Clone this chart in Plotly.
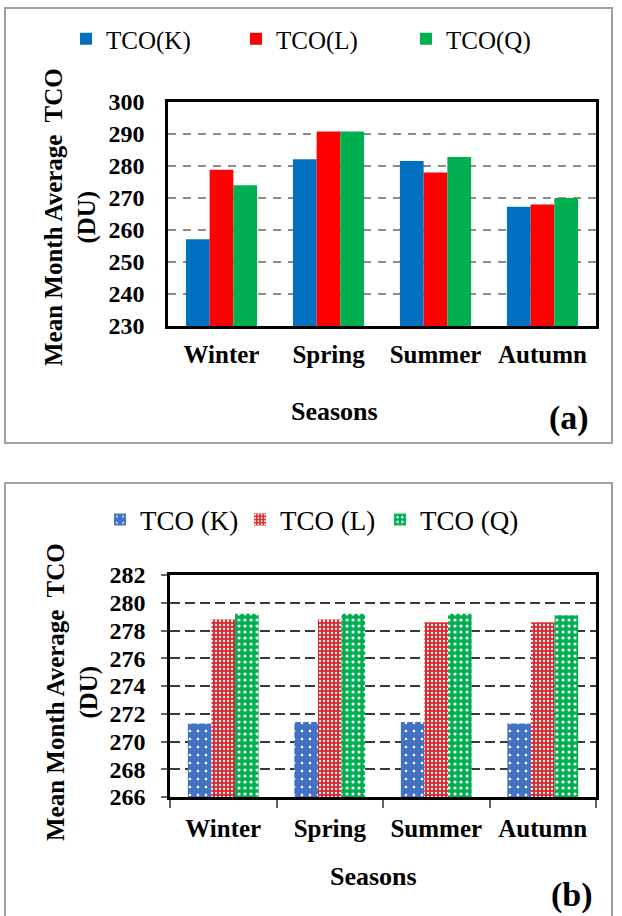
import plotly.graph_objects as go

W, H = 622, 916

seasons = ["Winter", "Spring", "Summer", "Autumn"]

# Panel (a)
a_names = ["TCO(K)", "TCO(L)", "TCO(Q)"]
a_K = [257.1, 282.1, 281.6, 267.3]
a_L = [278.8, 290.8, 278.0, 268.0]
a_Q = [274.0, 290.8, 282.8, 270.0]
a_ticks = [230, 240, 250, 260, 270, 280, 290, 300]

# Panel (b)
b_names = ["TCO (K)", "TCO (L)", "TCO (Q)"]
b_K = [271.3, 271.4, 271.4, 271.3]
b_L = [278.8, 278.8, 278.6, 278.6]
b_Q = [279.2, 279.2, 279.2, 279.1]
b_ticks = [266, 268, 270, 272, 274, 276, 278, 280, 282]

FONT = "'Liberation Serif', 'Times New Roman', Times, 'DejaVu Serif', serif"

def px_x(v):
    return v / W

def px_y(v):
    return 1 - v / H

fig = go.Figure()

a_colors = ["#0070C0", "#FF0000", "#00B050"]
for name, vals, col in zip(a_names, [a_K, a_L, a_Q], a_colors):
    fig.add_trace(go.Bar(x=seasons, y=vals, name=name, marker=dict(color=col, line=dict(width=0)),
                         xaxis="x", yaxis="y", legend="legend"))

b_colors = ["#4472C4", "#D92B2F", "#00B050"]
b_patterns = [dict(shape=".", fgcolor="white", bgcolor="#4472C4", size=8, solidity=0.08, fillmode="replace"),
              dict(shape=".", fgcolor="white", bgcolor="#D92B2F", size=4, solidity=0.25, fillmode="replace"),
              dict(shape=".", fgcolor="white", bgcolor="#00B050", size=6, solidity=0.22, fillmode="replace")]
for name, vals, col, pat in zip(b_names, [b_K, b_L, b_Q], b_colors, b_patterns):
    fig.add_trace(go.Bar(x=seasons, y=vals, name=name,
                         marker=dict(color=col, pattern=pat, line=dict(width=0)),
                         xaxis="x2", yaxis="y2", legend="legend2"))

tickfont = dict(family=FONT, size=24, color="black", weight="bold")
catfont = dict(family=FONT, size=25, color="black", weight="bold")

fig.update_layout(
    width=W, height=H,
    margin=dict(l=0, r=0, t=0, b=0),
    paper_bgcolor="white", plot_bgcolor="white",
    template="none",
    font=dict(family=FONT, color="black"),
    barmode="group", bargap=0.335, bargroupgap=0,
    xaxis=dict(domain=[px_x(168), px_x(596)], anchor="y", type="category",
               showline=True, linecolor="black", linewidth=2.5, mirror=True,
               showgrid=False, ticks="", tickfont=catfont, ticklabelstandoff=4,
               automargin=False),
    yaxis=dict(domain=[px_y(326), px_y(102)], anchor="x", range=[230, 300],
               tickvals=a_ticks, showline=True, linecolor="black", linewidth=2.5, mirror=True,
               showgrid=True, gridcolor="#8C8C8C", gridwidth=1.5, griddash="8px,7px",
               zeroline=False, ticks="", tickfont=tickfont, ticklabelstandoff=16,
               automargin=False),
    xaxis2=dict(domain=[px_x(170), px_x(596)], anchor="y2", type="category",
                showline=True, linecolor="black", linewidth=2.5, mirror=True,
                showgrid=False, ticks="outside", tickson="boundaries", ticklen=8,
                tickwidth=1.5, tickcolor="#666", tickfont=catfont, ticklabelstandoff=7,
                automargin=False),
    yaxis2=dict(domain=[px_y(797), px_y(575)], anchor="x2", range=[266, 282],
                tickvals=b_ticks, showline=True, linecolor="black", linewidth=2.5, mirror=True,
                showgrid=True, gridcolor="#3A3A3A", gridwidth=2.2, griddash="10px,5px",
                zeroline=False, ticks="outside", ticklen=6, tickwidth=1.5, tickcolor="#666",
                tickfont=tickfont, ticklabelstandoff=11, automargin=False),
    legend=dict(orientation="h", x=px_x(66), y=px_y(39), xanchor="left", yanchor="middle",
                font=dict(family=FONT, size=25, color="black"), bgcolor="rgba(0,0,0,0)",
                entrywidth=125, entrywidthmode="pixels", itemwidth=30),
    legend2=dict(orientation="h", x=px_x(100), y=px_y(520), xanchor="left", yanchor="middle",
                 font=dict(family=FONT, size=27, color="black"), bgcolor="rgba(0,0,0,0)",
                 entrywidth=95, entrywidthmode="pixels", itemwidth=30),
    showlegend=True,
)

# panel frames
for y0, y1 in [(8, 443), (483, 930)]:
    fig.add_shape(type="rect", xref="paper", yref="paper",
                  x0=px_x(5), x1=px_x(612), y0=px_y(y1), y1=px_y(y0),
                  line=dict(color="#A0A0A0", width=2), fillcolor="rgba(0,0,0,0)", layer="below")

ytitle = "Mean Month Average  TCO<br>(DU)"
annots = [
    dict(text=ytitle, x=px_x(71), y=px_y(217), textangle=-90,
         font=dict(family=FONT, size=25, weight="bold")),
    dict(text="Seasons", x=px_x(335), y=px_y(411), font=dict(family=FONT, size=26, weight="bold")),
    dict(text="(a)", x=px_x(569), y=px_y(418), font=dict(family=FONT, size=34, weight="bold")),
    dict(text=ytitle, x=px_x(72), y=px_y(692), textangle=-90,
         font=dict(family=FONT, size=25, weight="bold")),
    dict(text="Seasons", x=px_x(373), y=px_y(876), font=dict(family=FONT, size=26, weight="bold")),
    dict(text="(b)", x=px_x(572), y=px_y(895), font=dict(family=FONT, size=34, weight="bold")),
]
for a in annots:
    a.update(xref="paper", yref="paper", showarrow=False, xanchor="center", yanchor="middle")
    a["font"]["color"] = "black"
    fig.add_annotation(**a)

fig.write_html("out.html")
